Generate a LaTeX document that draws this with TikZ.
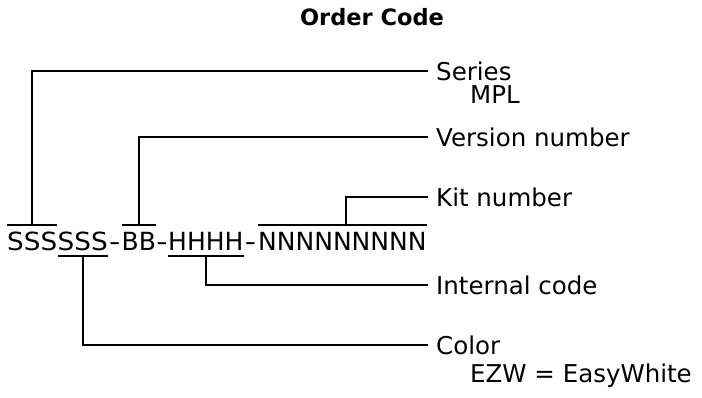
\documentclass[tikz,border=0pt]{standalone}
\usepackage{fontspec}
\usepackage{graphicx}
\setmainfont{DejaVu Sans}
\usetikzlibrary{calc}
\begin{document}
\begin{tikzpicture}[x=1pt,y=-1pt,
  code/.style={inner sep=0pt, anchor=base west, font=\fontsize{25}{30}\selectfont},
  lbl/.style={inner sep=0pt, anchor=west, text height=18pt, text depth=0pt, font=\fontsize{24.5}{30}\selectfont},
  sub/.style={inner sep=0pt, anchor=base west, font=\fontsize{24.5}{30}\selectfont},
  conn/.style={line width=1.8pt, black}]
\useasboundingbox (0,0) rectangle (702,397);

% title
\node[inner sep=0pt, anchor=base, font=\fontsize{22.5}{27}\selectfont\bfseries] (title) at (372,25) {Order Code};

% code groups
\node[code] (s1) at (7,250) {\scalebox{1.05}[1]{SSS}};
\node[code] (s2) at (57.5,250) {\scalebox{1.05}[1]{SSS}};
\node[code,anchor=base] (d1) at (114.7,250) {\scalebox{1.25}[1]{-}};
\node[code] (bb) at (121.5,250) {BB};
\node[code,anchor=base] (d2) at (162,250) {\scalebox{1.25}[1]{-}};
\node[code] (hh) at (168,250) {HHHH};
\node[code,anchor=base] (d3) at (250.5,250) {\scalebox{1.25}[1]{-}};
\node[code] (nn) at (258,250) {NNNNNNNNN};

\coordinate (ovy) at (0,225);
\coordinate (uny) at (0,256);
\coordinate (kitdrop) at ($(nn.west)!0.52!(nn.east)$);

% labels
\node[lbl] (series) at (436,71) {Series};
\node[sub] (mpl) at (470,103) {MPL};
\node[lbl] (version) at (436,137) {Version number};
\node[lbl] (kit) at (436,197) {Kit number};
\node[lbl] (internal) at (436,285) {Internal code};
\node[lbl] (color) at (436,345) {Color};
\node[sub] (ezw) at (470,382) {EZW = EasyWhite};

% over/underlines
\draw[conn] (s1.west |- ovy) -- (s1.east |- ovy);
\draw[conn] (bb.west |- ovy) -- (bb.east |- ovy);
\draw[conn] (nn.west |- ovy) -- (nn.east |- ovy);
\draw[conn] (s2.west |- uny) -- (s2.east |- uny);
\draw[conn] (hh.west |- uny) -- (hh.east |- uny);

% connectors
\draw[conn] ([xshift=-8pt]series.west) -| (s1.center |- ovy);
\draw[conn] ([xshift=-8pt]version.west) -| (bb.center |- ovy);
\draw[conn] ([xshift=-8pt]kit.west) -| (kitdrop |- ovy);
\draw[conn] ([xshift=-8pt]internal.west) -| (hh.center |- uny);
\draw[conn] ([xshift=-8pt]color.west) -| (s2.center |- uny);
\end{tikzpicture}
\end{document}
